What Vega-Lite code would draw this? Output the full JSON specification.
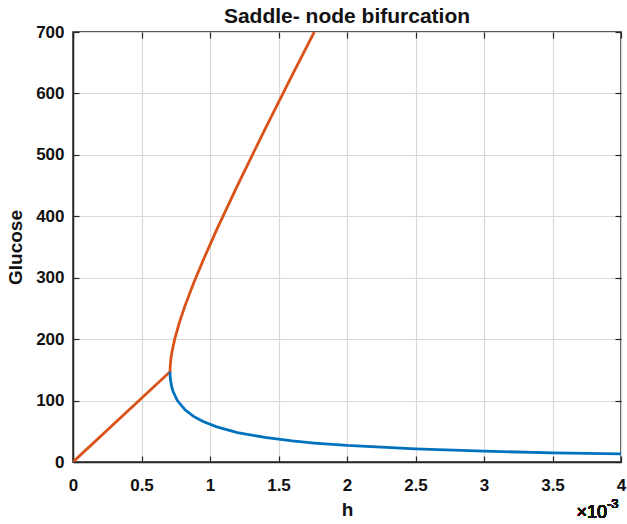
{
  "$schema": "https://vega.github.io/schema/vega-lite/v6.json",
  "autosize": {"type": "none"},
  "width": 548,
  "height": 430,
  "padding": {"left": 73, "top": 32, "right": 6, "bottom": 62},
  "background": "white",
  "config": {
    "font": "Liberation Sans",
    "view": {"stroke": "#262626", "strokeWidth": 1.5},
    "axis": {
      "labelFont": "Liberation Sans",
      "labelFontSize": 17,
      "labelFontWeight": "bold",
      "labelColor": "#111",
      "titleFont": "Liberation Sans",
      "titleFontSize": 19,
      "titleFontWeight": "bold",
      "titleColor": "#111",
      "domainColor": "#262626",
      "domainWidth": 1.5,
      "tickColor": "#262626",
      "tickWidth": 1.2,
      "tickSize": -6,
      "gridColor": "#d9d9d9",
      "gridWidth": 1.2
    }
  },
  "title": {
    "text": "Saddle- node bifurcation",
    "fontSize": 21,
    "fontWeight": "bold",
    "font": "Liberation Sans",
    "color": "#111",
    "offset": -4
  },
  "resolve": {"axis": {"x": "independent", "y": "independent"}},
  "data": {
    "values": [
      {"branch": "orange", "order": 0, "h": 0, "glucose": 0},
      {"branch": "orange", "order": 1, "h": 0.7084, "glucose": 147},
      {"branch": "orange", "order": 2, "h": 0.70858, "glucose": 150},
      {"branch": "orange", "order": 3, "h": 0.70942, "glucose": 155},
      {"branch": "orange", "order": 4, "h": 0.71099, "glucose": 160},
      {"branch": "orange", "order": 5, "h": 0.71593, "glucose": 170},
      {"branch": "orange", "order": 6, "h": 0.72301, "glucose": 180},
      {"branch": "orange", "order": 7, "h": 0.74229, "glucose": 200},
      {"branch": "orange", "order": 8, "h": 0.78, "glucose": 229.6},
      {"branch": "orange", "order": 9, "h": 0.82, "glucose": 255.8},
      {"branch": "orange", "order": 10, "h": 0.88, "glucose": 290.9},
      {"branch": "orange", "order": 11, "h": 0.95, "glucose": 328.5},
      {"branch": "orange", "order": 12, "h": 1.05, "glucose": 378.7},
      {"branch": "orange", "order": 13, "h": 1.2, "glucose": 450.0},
      {"branch": "orange", "order": 14, "h": 1.4, "glucose": 541.1},
      {"branch": "orange", "order": 15, "h": 1.6, "glucose": 629.7},
      {"branch": "orange", "order": 16, "h": 1.761, "glucose": 700},
      {"branch": "blue", "order": 0, "h": 0.7084, "glucose": 147},
      {"branch": "blue", "order": 1, "h": 0.70858, "glucose": 144},
      {"branch": "blue", "order": 2, "h": 0.70928, "glucose": 140},
      {"branch": "blue", "order": 3, "h": 0.71101, "glucose": 135},
      {"branch": "blue", "order": 4, "h": 0.71776, "glucose": 125},
      {"branch": "blue", "order": 5, "h": 0.72988, "glucose": 115},
      {"branch": "blue", "order": 6, "h": 0.76166, "glucose": 100},
      {"branch": "blue", "order": 7, "h": 0.82, "glucose": 84.5},
      {"branch": "blue", "order": 8, "h": 0.88, "glucose": 74.3},
      {"branch": "blue", "order": 9, "h": 0.95, "glucose": 65.8},
      {"branch": "blue", "order": 10, "h": 1.05, "glucose": 57.1},
      {"branch": "blue", "order": 11, "h": 1.2, "glucose": 48.0},
      {"branch": "blue", "order": 12, "h": 1.4, "glucose": 40.0},
      {"branch": "blue", "order": 13, "h": 1.6, "glucose": 34.3},
      {"branch": "blue", "order": 14, "h": 1.761, "glucose": 30.9},
      {"branch": "blue", "order": 15, "h": 2.0, "glucose": 26.9},
      {"branch": "blue", "order": 16, "h": 2.5, "glucose": 21.3},
      {"branch": "blue", "order": 17, "h": 3.0, "glucose": 17.6},
      {"branch": "blue", "order": 18, "h": 3.5, "glucose": 15.0},
      {"branch": "blue", "order": 19, "h": 4.0, "glucose": 13.1}
    ]
  },
  "layer": [
    {
      "mark": {"type": "line", "strokeWidth": 2.8, "clip": true},
      "encoding": {
        "x": {
          "field": "h", "type": "quantitative",
          "scale": {"domain": [0, 4], "nice": false, "zero": false},
          "axis": {"title": "h", "values": [0, 0.5, 1, 1.5, 2, 2.5, 3, 3.5, 4], "format": "~g", "labelPadding": 21, "titlePadding": 7, "orient": "bottom", "labelFlush": false}
        },
        "y": {
          "field": "glucose", "type": "quantitative",
          "scale": {"domain": [0, 700], "nice": false},
          "axis": {"title": "Glucose", "values": [0, 100, 200, 300, 400, 500, 600, 700], "labelPadding": 15, "titlePadding": 10, "labelFlush": false}
        },
        "color": {
          "field": "branch", "type": "nominal",
          "scale": {"domain": ["orange", "blue"], "range": ["#D95319", "#0072BD"]},
          "legend": null
        },
        "order": {"field": "order", "type": "quantitative"}
      }
    },
    {
      "mark": {"type": "line", "opacity": 0},
      "encoding": {
        "x": {
          "field": "h", "type": "quantitative",
          "axis": {"orient": "top", "title": null, "labels": false, "grid": false, "domain": false, "minExtent": 0, "maxExtent": 0, "values": [0, 0.5, 1, 1.5, 2, 2.5, 3, 3.5, 4]}
        },
        "y": {
          "field": "glucose", "type": "quantitative",
          "axis": {"orient": "right", "title": null, "labels": false, "grid": false, "domain": false, "minExtent": 0, "maxExtent": 0, "values": [0, 100, 200, 300, 400, 500, 600, 700]}
        },
        "detail": {"field": "branch", "type": "nominal"}
      }
    },
    {
      "mark": {"type": "text", "align": "right", "baseline": "alphabetic", "dx": -14, "dy": 56, "fontSize": 18, "font": "Liberation Sans", "color": "#111"},
      "encoding": {
        "x": {"datum": 4, "type": "quantitative", "axis": null},
        "y": {"datum": 0, "type": "quantitative", "axis": null},
        "text": {"value": "×10"}
      }
    },
    {
      "mark": {"type": "text", "align": "left", "baseline": "alphabetic", "dx": -14, "dy": 46, "fontSize": 13, "font": "Liberation Sans", "color": "#111"},
      "encoding": {
        "x": {"datum": 4, "type": "quantitative", "axis": null},
        "y": {"datum": 0, "type": "quantitative", "axis": null},
        "text": {"value": "-3"}
      }
    }
  ]
}
